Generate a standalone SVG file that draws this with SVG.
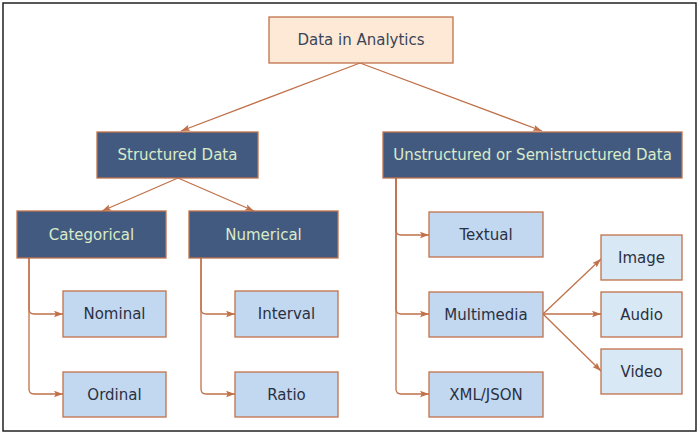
<svg xmlns="http://www.w3.org/2000/svg" width="700" height="436" viewBox="0 0 700 436">
<style>
text{font-family:"DejaVu Sans","Liberation Sans",sans-serif;font-size:15px;text-anchor:middle;dominant-baseline:central}
.root rect{fill:#fde9d5;stroke:#c0714a;stroke-width:1.3}
.root text{fill:#3a4558}
.dark rect{fill:#435a80;stroke:#c0714a;stroke-width:1.3}
.dark text{fill:#d9ebc9}
.leaf rect{fill:#c2d8f1;stroke:#c0714a;stroke-width:1.3}
.leaf text{fill:#2a3142}
.leaf2 rect{fill:#d8e8f5;stroke:#c0714a;stroke-width:1.3}
.leaf2 text{fill:#2a3142}
.conn path{fill:none;stroke:#c0714a;stroke-width:1.3;marker-end:url(#arr)}
</style>
<defs>
<marker id="arr" viewBox="0 0 10 10" refX="10" refY="5" markerWidth="9" markerHeight="9" markerUnits="userSpaceOnUse" orient="auto">
<path d="M0,1.5 L10,5 L0,8.5 L2,5 Z" fill="#c0714a"/>
</marker>
</defs>
<rect x="3" y="3" width="693" height="428" fill="#ffffff" stroke="#222222" stroke-width="1.5"/>
<g class="conn">
<path d="M360,63 L181,131"/>
<path d="M360,63 L542,131"/>
<path d="M178,178 L102,211"/>
<path d="M178,178 L254,211"/>
<path d="M29,258 L29,309 Q29,314 34,314 L63,314"/>
<path d="M29,258 L29,389 Q29,394 34,394 L63,394"/>
<path d="M201,258 L201,309 Q201,314 206,314 L235,314"/>
<path d="M201,258 L201,389 Q201,394 206,394 L235,394"/>
<path d="M396,178 L396,230 Q396,235 401,235 L429,235"/>
<path d="M396,178 L396,309 Q396,314 401,314 L429,314"/>
<path d="M396,178 L396,389 Q396,394 401,394 L429,394"/>
<path d="M543,314 L601,259"/>
<path d="M543,314 L601,314"/>
<path d="M543,314 L601,371"/>
</g>
<g id="root" class="root"><rect x="269" y="17" width="184" height="46"/><text x="361" y="40">Data in Analytics</text></g>
<g id="structured" class="dark"><rect x="97" y="132" width="161" height="46"/><text x="177.5" y="155">Structured Data</text></g>
<g id="unstructured" class="dark"><rect x="383" y="132" width="299" height="46"/><text x="532.5" y="155">Unstructured or Semistructured Data</text></g>
<g id="categorical" class="dark"><rect x="17" y="211" width="149" height="47"/><text x="91.5" y="234.5">Categorical</text></g>
<g id="numerical" class="dark"><rect x="189" y="211" width="149" height="47"/><text x="263.5" y="234.5">Numerical</text></g>
<g id="nominal" class="leaf"><rect x="63" y="291" width="103" height="46"/><text x="114.5" y="314">Nominal</text></g>
<g id="ordinal" class="leaf"><rect x="63" y="372" width="103" height="45"/><text x="114.5" y="394.5">Ordinal</text></g>
<g id="interval" class="leaf"><rect x="235" y="291" width="103" height="46"/><text x="286.5" y="314">Interval</text></g>
<g id="ratio" class="leaf"><rect x="235" y="372" width="103" height="45"/><text x="286.5" y="394.5">Ratio</text></g>
<g id="textual" class="leaf"><rect x="429" y="212" width="114" height="45"/><text x="486" y="234.5">Textual</text></g>
<g id="multimedia" class="leaf"><rect x="429" y="292" width="114" height="45"/><text x="486" y="314.5">Multimedia</text></g>
<g id="xmljson" class="leaf"><rect x="429" y="372" width="114" height="45"/><text x="486" y="394.5">XML/JSON</text></g>
<g id="image" class="leaf2"><rect x="601" y="235" width="81" height="45"/><text x="641.5" y="257.5">Image</text></g>
<g id="audio" class="leaf2"><rect x="601" y="292" width="81" height="45"/><text x="641.5" y="314.5">Audio</text></g>
<g id="video" class="leaf2"><rect x="601" y="349" width="81" height="45"/><text x="641.5" y="371.5">Video</text></g>
</svg>
